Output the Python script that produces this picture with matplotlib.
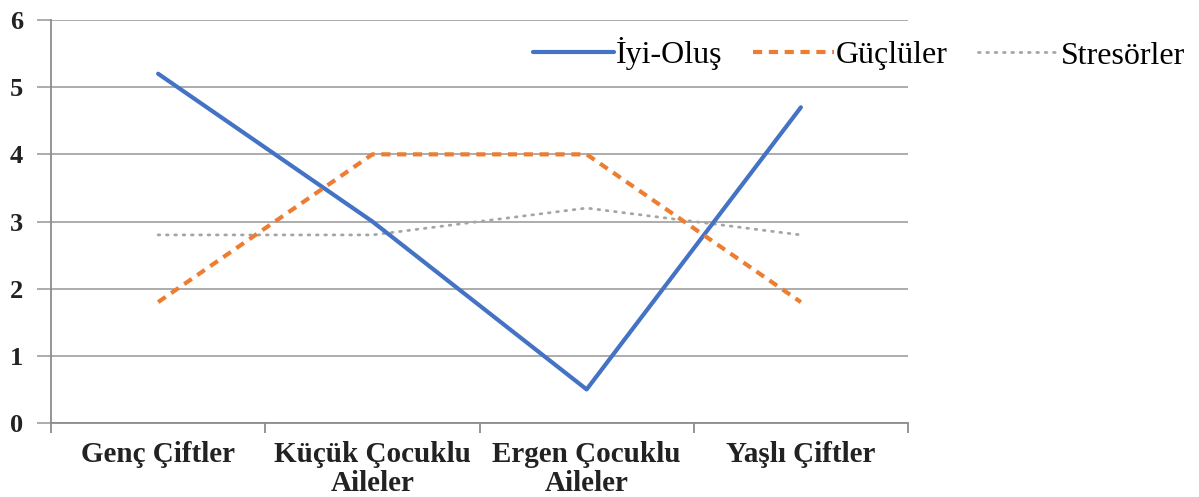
import matplotlib
matplotlib.use("Agg")
import matplotlib.pyplot as plt
import numpy as np

categories = ["Genç Çiftler", "Küçük Çocuklu\nAileler", "Ergen Çocuklu\nAileler", "Yaşlı Çiftler"]
iyi_olus = [5.2, 3.0, 0.5, 4.7]
gucluler = [1.8, 4.0, 4.0, 1.8]
stresorler = [2.8, 2.8, 3.2, 2.8]
series_names = ["İyi-Oluş", "Güçlüler", "Stresörler"]
y_ticks = [0, 1, 2, 3, 4, 5, 6]

plt.rcParams['font.family'] = ['Liberation Serif', 'DejaVu Serif']

fig = plt.figure(figsize=(11.99, 4.97), dpi=100)
ax = fig.add_axes([51/1199, 1-423/497, (908-51)/1199, (423-20)/497])

x = np.arange(len(categories))
ax.plot(x, iyi_olus, color="#4472C4", lw=3, solid_capstyle='round', label=series_names[0], zorder=3)
ax.plot(x, gucluler, color="#ED7D31", lw=3, dashes=(2.2, 1.6), dash_capstyle='butt', label=series_names[1], zorder=3)
ax.plot(x, stresorler, color="#A5A5A5", lw=2, dashes=(0.6, 2.4), dash_capstyle='round', label=series_names[2], zorder=2)

ax.set_xlim(-0.5, len(categories) - 0.5)
ax.set_ylim(0, 6)
ax.set_yticks(y_ticks)
ax.set_yticklabels([str(v) for v in y_ticks], fontsize=19, fontweight='bold', color='#222222')
ax.yaxis.grid(True, color="#A6A6A6", lw=1.3)
ax.set_axisbelow(True)

ax.set_xticks(np.arange(-0.5, len(categories)), minor=False)
ax.set_xticklabels([])
ax.set_xticks(x, minor=True)
ax.set_xticklabels(categories, minor=True, fontsize=21, fontweight='bold', color='#222222', linespacing=1.08)
ax.tick_params(axis='x', which='minor', length=0, pad=13)
ax.tick_params(axis='x', which='major', length=7, width=1.3, color='#8C8C8C', direction='out')
ax.tick_params(axis='y', length=10, width=1.3, color='#A6A6A6', pad=10)

for s in ['top', 'right']:
    ax.spines[s].set_visible(False)
for s in ['left', 'bottom']:
    ax.spines[s].set_color('#8C8C8C')
    ax.spines[s].set_linewidth(1.3)

fig.legend(loc='center', bbox_to_anchor=(859/1199, 1-54/497), ncol=3, frameon=False,
           fontsize=23, handlelength=2.55, handletextpad=0.05, columnspacing=0.95)

fig.savefig("out.png", dpi=100)
